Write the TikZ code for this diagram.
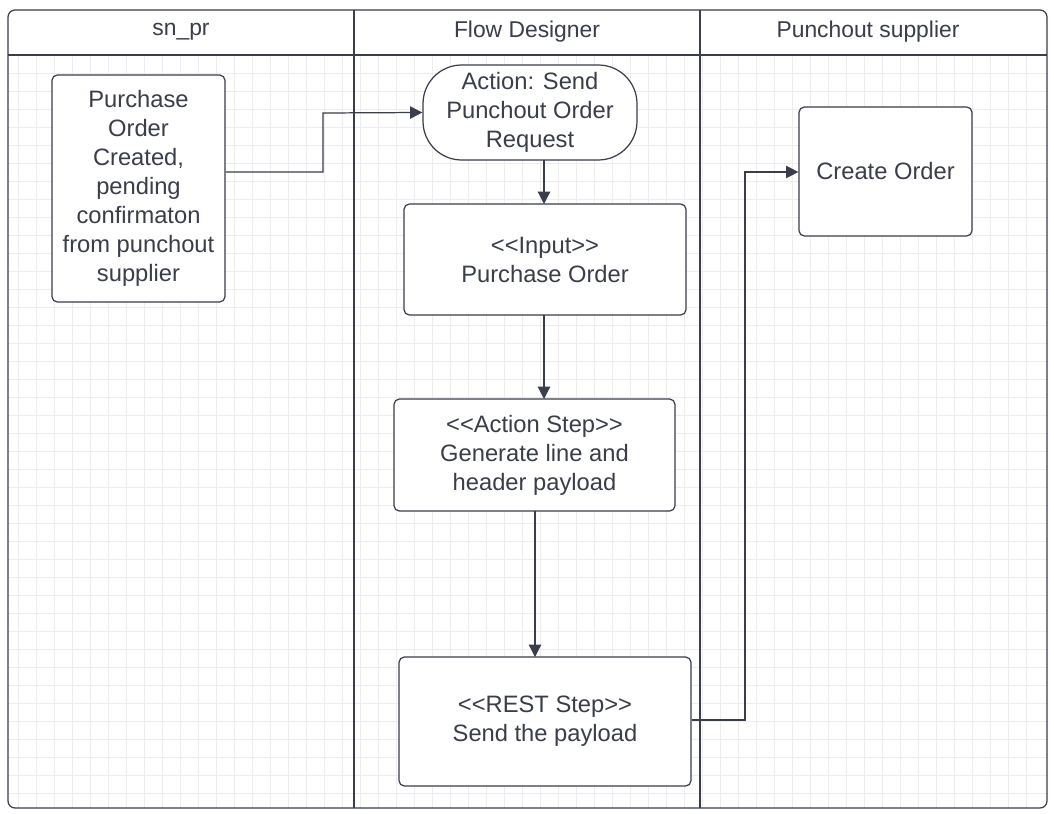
\documentclass[tikz,border=0pt]{standalone}
\usepackage{fontspec}
\setmainfont{Liberation Sans}
\usetikzlibrary{arrows.meta}
\definecolor{ink}{HTML}{3A3D4A}
\definecolor{gridc}{HTML}{EDEDED}
\tikzstyle{Step}=[draw=ink, line width=0.7pt, rounded corners=3pt, fill=white, text=ink, align=center, font=\fontsize{13.5}{16.5}\selectfont]
\tikzstyle{Start}=[draw=ink, line width=0.7pt, rounded corners=22pt, fill=white, text=ink, align=center, font=\fontsize{13.5}{16.5}\selectfont]
\tikzstyle{Lane}=[text=ink, font=\fontsize{13}{16}\selectfont]
\tikzstyle{arrow}=[draw=ink, line width=0.7pt, -{Triangle[length=7pt,width=7pt]}]
\begin{document}
\begin{tikzpicture}[x=0.02cm, y=-0.02cm]
	\useasboundingbox (0,0) rectangle (1054,814);
	\fill[white] (0,0) rectangle (1054,814);
	% background grid
	\foreach \gx in {18,36,...,1040} \draw[gridc, line width=0.4pt] (\gx,55) -- (\gx,808);
	\foreach \gy in {73,91,...,800} \draw[gridc, line width=0.4pt] (8,\gy) -- (1047,\gy);
	% lanes
	\draw[ink, line width=0.7pt, rounded corners=4pt] (8,10) rectangle (1047,808);
	\draw[ink, line width=0.7pt] (8,55) -- (1047,55);
	\draw[ink, line width=0.9pt] (354,10) -- (354,808);
	\draw[ink, line width=0.9pt] (700,10) -- (700,808);
	\node[Lane] (lanepr) at (181,32) {sn\_pr};
	\node[Lane] (lanefd) at (527,32) {Flow Designer};
	\node[Lane] (lanesup) at (868,32) {Punchout supplier};

	% steps
	\node[Step, minimum width=3.46cm, minimum height=4.54cm] (created) at (138.5,188.5) {Purchase\\Order\\Created,\\pending\\confirmaton\\from punchout\\supplier};
	\node[Start, minimum width=4.28cm, minimum height=1.9cm] (send) at (530,112.5) {Action: Send\\Punchout Order\\Request};
	\node[Step, minimum width=5.64cm, minimum height=2.22cm] (input) at (545,259.5) {<{}<Input>{}>\\Purchase Order};
	\node[Step, minimum width=5.62cm, minimum height=2.24cm] (generate) at (534.5,455) {<{}<Action Step>{}>\\Generate line and\\header payload};
	\node[Step, minimum width=5.84cm, minimum height=2.58cm] (rest) at (545,721.5) {<{}<REST Step>{}>\\Send the payload};
	\node[Step, minimum width=3.46cm, minimum height=2.58cm] (create) at (885.5,171.5) {Create Order};

	% connectors
	\draw[arrow] (created.east |- 0,172) -- (323,172) -- (323,113) -- (send.west);
	\draw[arrow] (544,160) -- (544,204);
	\draw[arrow] (544,315) -- (544,399);
	\draw[arrow] (535,511) -- (535,657);
	\draw[arrow] (rest.east |- 0,720) -- (745,720) -- (745,172) -- (create.west |- 0,172);
\end{tikzpicture}
\end{document}
